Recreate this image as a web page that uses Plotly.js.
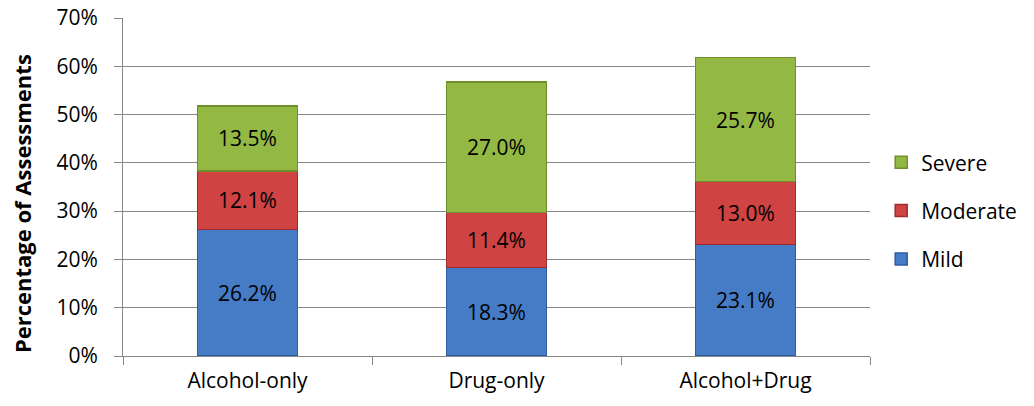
<!DOCTYPE html>
<html>
<head>
<meta charset="utf-8">
<script src="https://cdn.plot.ly/plotly-3.0.1.min.js"></script>
<style>
  html, body { margin: 0; padding: 0; background: #fff; }
  #chart { width: 1034px; height: 406px; }
</style>
</head>
<body>
<div id="chart"></div>
<script>
// Substance groups along the x axis
const categories = ['Alcohol-only', 'Drug-only', 'Alcohol+Drug'];

// Share of assessments (%) by severity level
const mild     = [26.2, 18.3, 23.1];
const moderate = [12.1, 11.4, 13.0];
const severe   = [13.5, 27.0, 25.7];

const yTickVals = [0, 10, 20, 30, 40, 50, 60, 70];
const yTitle = 'Percentage of Assessments';

const FONT = '"Open Sans", "Noto Sans", sans-serif';

function series(name, values, fill, edge, rank) {
  return {
    type: 'bar',
    name: name,
    x: categories,
    y: values,
    legendgroup: name,
    legendrank: rank,
    marker: { color: fill, line: { color: edge, width: 1.5 } },
    text: values.map(v => v.toFixed(1) + '%'),
    textposition: 'inside',
    insidetextanchor: 'middle',
    textfont: { family: FONT, size: 21, color: '#000' },
    hoverinfo: 'x+y+name'
  };
}

// Stacked bottom-to-top: Mild, Moderate, Severe; legend lists Severe first
const data = [
  series('Mild', mild, '#467cc6', '#2f5e9e', 3),
  series('Moderate', moderate, '#cf4343', '#9e2c2c', 2),
  series('Severe', severe, '#93b944', '#6e8f2c', 1)
];

const layout = {
  width: 1034,
  height: 406,
  barmode: 'stack',
  bargap: 0.6,
  margin: { l: 123, r: 161, t: 18, b: 50 },
  paper_bgcolor: '#fff',
  plot_bgcolor: '#fff',
  font: { family: FONT, size: 21, color: '#000' },
  showlegend: true,
  legend: {
    x: 1.015, xanchor: 'left',
    y: 0.43, yanchor: 'middle',
    traceorder: 'grouped',
    tracegroupgap: 18,
    itemwidth: 30,
    font: { family: FONT, size: 21, color: '#000' }
  },
  xaxis: {
    type: 'category',
    tickson: 'boundaries',
    ticks: 'outside',
    ticklen: 8,
    tickcolor: '#868686',
    showline: true,
    linecolor: '#868686',
    linewidth: 1,
    showgrid: false,
    ticklabelstandoff: 6,
    tickfont: { family: FONT, size: 21 }
  },
  yaxis: {
    range: [0, 70],
    tickvals: yTickVals,
    ticktext: yTickVals.map(v => v + '%'),
    ticks: 'outside',
    ticklen: 8,
    tickcolor: '#868686',
    showline: true,
    linecolor: '#868686',
    linewidth: 1,
    showgrid: true,
    gridcolor: '#868686',
    gridwidth: 1,
    zeroline: false,
    ticklabelstandoff: 12,
    tickfont: { family: FONT, size: 21 }
  },
  // Rotated y-axis title, placed as an annotation so it sits a little below centre
  annotations: [{
    text: '<b>' + yTitle + '</b>',
    textangle: -90,
    xref: 'paper', yref: 'paper',
    x: -0.135, xanchor: 'center',
    y: 0.45, yanchor: 'middle',
    showarrow: false,
    font: { family: FONT, size: 22, color: '#000' }
  }]
};

Plotly.newPlot('chart', data, layout, { displayModeBar: false, staticPlot: true });
</script>
</body>
</html>
